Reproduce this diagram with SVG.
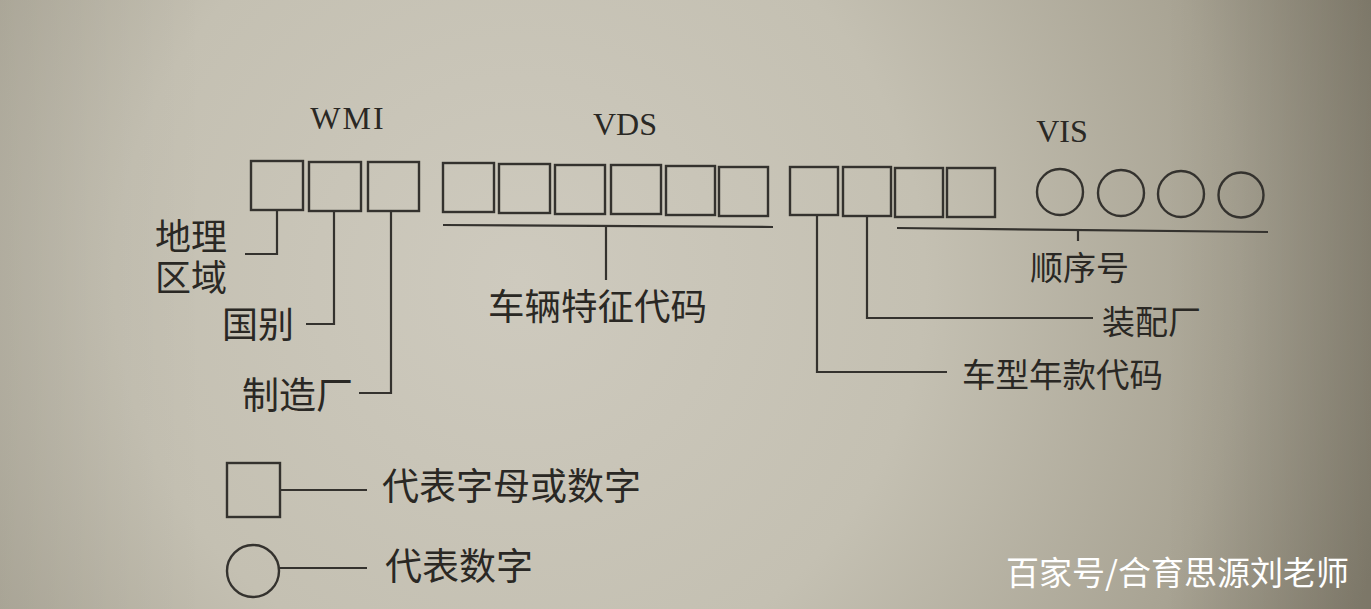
<svg xmlns="http://www.w3.org/2000/svg" width="1371" height="609" viewBox="0 0 1371 609">
  <defs>
    <radialGradient id="paper" cx="520" cy="280" r="900" gradientUnits="userSpaceOnUse">
      <stop offset="0" stop-color="#cecabe"/>
      <stop offset="0.45" stop-color="#c4c0b2"/>
      <stop offset="0.8" stop-color="#a8a393"/>
      <stop offset="1" stop-color="#8d8776"/>
    </radialGradient>
    <linearGradient id="shade" x1="0" y1="0" x2="1" y2="0">
      <stop offset="0" stop-color="#000" stop-opacity="0.05"/>
      <stop offset="0.15" stop-color="#000" stop-opacity="0"/>
      <stop offset="0.85" stop-color="#000" stop-opacity="0"/>
      <stop offset="1" stop-color="#000" stop-opacity="0.12"/>
    </linearGradient>
    <style>
      .bx { fill: none; stroke: #34322e; stroke-width: 2.4; }
      .ln { fill: none; stroke: #34322e; stroke-width: 2.2; }
      .lat { font-family: "Liberation Serif", serif; font-size: 32px; fill: #2a2824; text-anchor: middle; }
      .cjk { font-family: "Noto Sans CJK SC", sans-serif; fill: #2a2824; }
      .wm { font-family: "Noto Sans CJK SC", sans-serif; font-size: 33px; fill: #ffffff; }
    </style>
  </defs>
  <rect width="1371" height="609" fill="url(#paper)"/>
  <rect width="1371" height="609" fill="url(#shade)"/>

  <g id="section-labels">
    <text class="lat" x="348" y="129" letter-spacing="2">WMI</text>
    <text class="lat" x="625" y="135">VDS</text>
    <text class="lat" x="1062" y="142">VIS</text>
  </g>

  <g id="wmi-boxes">
    <rect class="bx" x="251" y="161" width="52" height="49"/>
    <rect class="bx" x="309" y="162" width="52" height="49"/>
    <rect class="bx" x="368" y="162" width="51" height="49"/>
  </g>

  <g id="vds-boxes">
    <rect class="bx" x="443" y="163" width="51" height="49"/>
    <rect class="bx" x="499" y="164" width="51" height="49"/>
    <rect class="bx" x="555" y="165" width="50" height="49"/>
    <rect class="bx" x="611" y="165" width="50" height="49"/>
    <rect class="bx" x="666" y="166" width="49" height="49"/>
    <rect class="bx" x="719" y="167" width="49" height="49"/>
  </g>

  <g id="vis-boxes">
    <rect class="bx" x="790" y="167" width="48" height="48"/>
    <rect class="bx" x="843" y="167" width="48" height="49"/>
    <rect class="bx" x="895" y="168" width="48" height="49"/>
    <rect class="bx" x="947" y="168" width="48" height="49"/>
  </g>

  <g id="vis-circles">
    <circle class="bx" cx="1060" cy="192" r="23"/>
    <circle class="bx" cx="1121" cy="193" r="23"/>
    <circle class="bx" cx="1181" cy="194" r="23"/>
    <circle class="bx" cx="1241" cy="195" r="22.5"/>
  </g>

  <g id="connectors">
    <polyline class="ln" points="277,210 277,254 245,254"/>
    <polyline class="ln" points="334,211 334,324 306,324"/>
    <polyline class="ln" points="391,211 391,393 359,393"/>
    <line class="ln" x1="443" y1="225" x2="773" y2="227"/>
    <line class="ln" x1="606" y1="226" x2="606" y2="280"/>
    <line class="ln" x1="897" y1="228" x2="1268" y2="232"/>
    <line class="ln" x1="1078" y1="230" x2="1078" y2="241"/>
    <polyline class="ln" points="867,216 867,318 1093,318"/>
    <polyline class="ln" points="817,215 817,372 947,372"/>
    <line class="ln" x1="280" y1="490" x2="367" y2="490"/>
    <line class="ln" x1="279" y1="568" x2="367" y2="568"/>
  </g>

  <g id="label-region">
    <text class="cjk" font-size="36"><tspan x="155" y="250">地理</tspan><tspan x="155" y="291">区域</tspan></text>
  </g>
  <g id="label-country">
    <text class="cjk" x="222" y="338" font-size="36">国别</text>
  </g>
  <g id="label-maker">
    <text class="cjk" x="242" y="409" font-size="37">制造厂</text>
  </g>
  <g id="label-vds">
    <text class="cjk" x="488" y="320" font-size="36.5">车辆特征代码</text>
  </g>
  <g id="label-serial">
    <text class="cjk" x="1030" y="280" font-size="33">顺序号</text>
  </g>
  <g id="label-plant">
    <text class="cjk" x="1102" y="334" font-size="33">装配厂</text>
  </g>
  <g id="label-year">
    <text class="cjk" x="962" y="387" font-size="33.5">车型年款代码</text>
  </g>

  <g id="legend-square">
    <rect class="bx" x="227" y="463" width="53" height="54"/>
    <text class="cjk" x="382" y="500" font-size="37">代表字母或数字</text>
  </g>
  <g id="legend-circle">
    <circle class="bx" cx="253" cy="571" r="26"/>
    <text class="cjk" x="385" y="580" font-size="37">代表数字</text>
  </g>

  <g id="watermark">
    <text class="wm" x="1006" y="585">百家号/合育思源刘老师</text>
  </g>
</svg>
